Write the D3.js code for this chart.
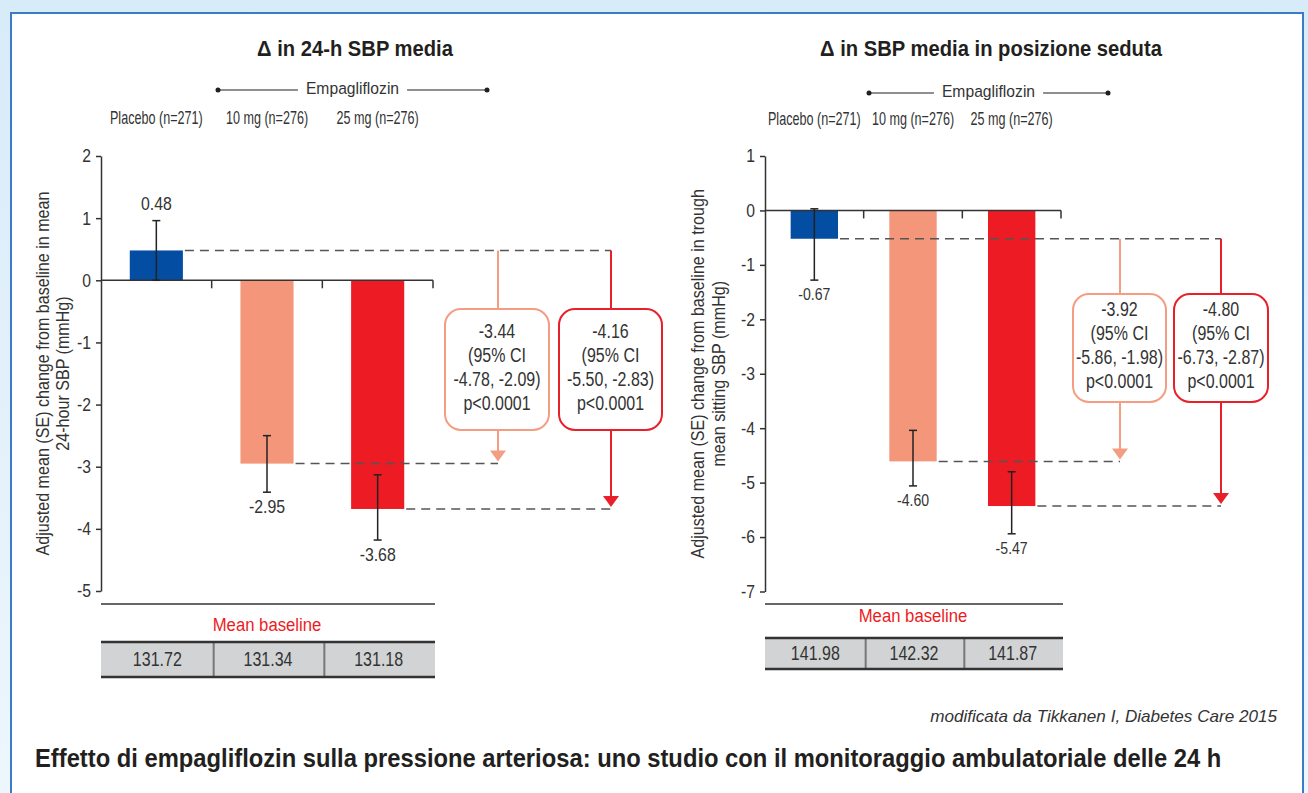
<!DOCTYPE html>
<html>
<head>
<meta charset="utf-8">
<title>Empagliflozin SBP</title>
<style>
    body, html {
        margin: 0;
        padding: 0;
        background: #ffffff;
    }
    text {
        font-family: "Liberation Sans", Arial, sans-serif;
        fill: #333;
    }
</style>
</head>
<body>
<div id="chart"></div>
<script src="https://d3js.org/d3.v7.min.js"></script>
<script>

    // groups shared by both panels
    var groups = ['Placebo (n=271)', '10 mg (n=276)', '25 mg (n=276)'];

    // left panel: change in 24-h mean SBP
    var ambTicks = [2, 1, 0, -1, -2, -3, -4, -5];
    var ambMeans = [0.48, -2.95, -3.68];
    var ambLabels = ['0.48', '-2.95', '-3.68'];
    var ambErrHigh = [0.96, -2.50, -3.13];
    var ambErrLow = [0.00, -3.41, -4.18];
    var ambBaseline = ['131.72', '131.34', '131.18'];
    var ambDiff10 = ['-3.44', '(95% CI', '-4.78, -2.09)', 'p<0.0001'];
    var ambDiff25 = ['-4.16', '(95% CI', '-5.50, -2.83)', 'p<0.0001'];

    // right panel: change in seated trough SBP
    var seatTicks = [1, 0, -1, -2, -3, -4, -5, -6, -7];
    var seatMeans = [-0.52, -4.61, -5.43];
    var seatLabels = ['-0.67', '-4.60', '-5.47'];
    var seatErrHigh = [0.03, -4.04, -4.80];
    var seatErrLow = [-1.28, -5.06, -5.94];
    var seatBaseline = ['141.98', '142.32', '141.87'];
    var seatDiff10 = ['-3.92', '(95% CI', '-5.86, -1.98)', 'p<0.0001'];
    var seatDiff25 = ['-4.80', '(95% CI', '-6.73, -2.87)', 'p<0.0001'];

    var width = 1308;
    var height = 793;
    var barColors = ['#034ea2', '#f4967a', '#ed1c24'];
    var arrowColors = ['#f59d82', '#e8202a'];

    var svg = d3.select('#chart')
        .append('svg')
        .attr('width', width)
        .attr('height', height);

    // text helper: condensed look by squeezing the glyphs horizontally
    function addText(parent, x, y, str, o) {
        o = o || {};
        var t = parent.append('text')
            .attr('text-anchor', o.anchor || 'middle')
            .attr('dominant-baseline', 'middle')
            .style('font-size', (o.size || 16) + 'px')
            .text(str);
        if (o.weight) t.style('font-weight', o.weight);
        if (o.italic) t.style('font-style', 'italic');
        if (o.fill) t.style('fill', o.fill);
        var sx = o.sx || 1;
        if (o.fit) sx = o.fit / t.node().getComputedTextLength();
        t.attr('transform', 'translate(' + x + ',' + y + ')' +
            (o.rotate ? ' rotate(' + o.rotate + ')' : '') +
            ' scale(' + sx + ',1)');
        t.node().__w = t.node().getComputedTextLength() * sx;
        return t;
    }

    var defs = svg.append('defs');
    var grad = defs.append('linearGradient')
        .attr('id', 'bg')
        .attr('x1', 0).attr('y1', 0).attr('x2', 0).attr('y2', 1);
    grad.append('stop').attr('offset', '0%').attr('stop-color', '#d8ebf9');
    grad.append('stop').attr('offset', '100%').attr('stop-color', '#edf6fd');

    svg.append('rect')
        .attr('width', width)
        .attr('height', height)
        .attr('fill', 'url(#bg)');

    svg.append('rect')
        .attr('x', 11)
        .attr('y', 13)
        .attr('width', 1292)
        .attr('height', 800)
        .attr('fill', '#fff')
        .attr('stroke', '#3a7cc8')
        .attr('stroke-width', 2);

    drawPanel({
        title: '\u0394 in 24-h SBP media',
        titleX: 355, titleW: 196,
        ticks: ambTicks, means: ambMeans, labels: ambLabels,
        errHigh: ambErrHigh, errLow: ambErrLow,
        baseline: ambBaseline, diffs: [ambDiff10, ambDiff25],
        yDomain: [2, -5], yRange: [156, 591],
        xRange: [101, 433],
        empLeft: 218, empRight: 487, empY: 90,
        groupY: 119,
        yLabel: ['Adjusted mean (SE) change from baseline in mean', '24-hour SBP (mmHg)'],
        yLabelX: [44, 64],
        arrowX: [498, 611],
        boxes: [[445, 104], [559, 103]],
        boxY: [309, 430],
        valueFont: 18,
        ruleY: 604, baseLabelY: 626,
        tableY: [642, 677]
    });

    drawPanel({
        title: '\u0394 in SBP media in posizione seduta',
        titleX: 991, titleW: 342,
        ticks: seatTicks, means: seatMeans, labels: seatLabels,
        errHigh: seatErrHigh, errLow: seatErrLow,
        baseline: seatBaseline, diffs: [seatDiff10, seatDiff25],
        yDomain: [1, -7], yRange: [156, 591.5],
        xRange: [765, 1061],
        empLeft: 869, empRight: 1108, empY: 93,
        groupY: 120,
        yLabel: ['Adjusted mean (SE) change from baseline in trough', 'mean sitting SBP (mmHg)'],
        yLabelX: [699, 720],
        arrowX: [1120, 1221],
        boxes: [[1073, 93], [1174, 94]],
        boxY: [294, 402],
        valueFont: 16,
        ruleY: 604, baseLabelY: 617,
        tableY: [638, 669]
    });

    function drawPanel(p) {
        var g = svg.append('g');

        var y = d3.scaleLinear().domain(p.yDomain).range(p.yRange);
        var x = d3.scaleBand()
            .domain(groups)
            .range(p.xRange)
            .paddingInner(0.52)
            .paddingOuter(0.26);
        var step = x.step();
        var x0 = p.xRange[0];
        var center = function(d) { return x(d) + x.bandwidth() / 2; };

        // title and group header
        addText(g, p.titleX, 50, p.title, {size: 22, weight: 'bold', fill: '#231f20', fit: p.titleW});

        var empMid = (p.empLeft + p.empRight) / 2;
        var emp = addText(g, empMid, p.empY, 'Empagliflozin', {size: 16.5, sx: 0.95});
        var half = emp.node().__w / 2 + 8;
        [[p.empLeft, empMid - half], [empMid + half, p.empRight]].forEach(function(s) {
            g.append('line')
                .attr('x1', s[0]).attr('x2', s[1])
                .attr('y1', p.empY).attr('y2', p.empY)
                .attr('stroke', '#231f20')
                .attr('stroke-width', 1.2);
        });
        [p.empLeft, p.empRight].forEach(function(cx) {
            g.append('circle')
                .attr('cx', cx).attr('cy', p.empY).attr('r', 2.5)
                .attr('fill', '#231f20');
        });

        groups.forEach(function(d) {
            addText(g, center(d), p.groupY, d, {size: 17.5, sx: 0.72});
        });

        // y axis
        var axis = g.append('g')
            .attr('transform', 'translate(' + x0 + ',0)')
            .call(d3.axisLeft(y).tickValues(p.ticks).tickSize(5).tickSizeOuter(0).tickPadding(5)
                .tickFormat(function(d) { return d; }));
        axis.select('.domain').attr('stroke', '#333').attr('stroke-width', 1.5);
        axis.selectAll('.tick line').attr('stroke', '#333').attr('stroke-width', 1.5);
        axis.selectAll('.tick text')
            .style('font-size', '18.5px')
            .style('font-family', null)
            .attr('fill', '#333')
            .attr('x', -10 / 0.85)
            .attr('transform', 'scale(0.85,1)');

        p.yLabel.forEach(function(t, i) {
            var cy = (p.yRange[0] + p.yRange[1]) / 2;
            addText(g, p.yLabelX[i], cy, t, {size: 18.5, sx: 0.87, rotate: -90});
        });

        // bars
        g.selectAll('.bar')
            .data(groups)
            .enter()
            .append('rect')
            .attr('x', function(d) { return x(d); })
            .attr('width', x.bandwidth())
            .attr('y', function(d, i) { return y(Math.max(0, p.means[i])); })
            .attr('height', function(d, i) { return Math.abs(y(p.means[i]) - y(0)); })
            .attr('fill', function(d, i) { return barColors[i]; });

        // zero line with ticks at band edges
        g.append('line')
            .attr('x1', x0).attr('x2', p.xRange[1])
            .attr('y1', y(0)).attr('y2', y(0))
            .attr('stroke', '#333').attr('stroke-width', 1.5);
        [1, 2, 3].forEach(function(k) {
            g.append('line')
                .attr('x1', x0 + k * step).attr('x2', x0 + k * step)
                .attr('y1', y(0)).attr('y2', y(0) + 8)
                .attr('stroke', '#333').attr('stroke-width', 1.5);
        });

        // dashed reference lines
        var dash = function(x1, x2, v) {
            g.append('line')
                .attr('x1', x1).attr('x2', x2)
                .attr('y1', y(v)).attr('y2', y(v))
                .attr('stroke', '#555')
                .attr('stroke-width', 1.5)
                .attr('stroke-dasharray', '9,6');
        };
        var right = function(i) { return x(groups[i]) + x.bandwidth(); };
        dash(right(0) + 2, p.arrowX[1], p.means[0]);
        dash(right(1) + 2, p.arrowX[0], p.means[1]);
        dash(right(2) + 2, p.arrowX[1], p.means[2]);

        // error bars
        groups.forEach(function(d, i) {
            var cx = center(d);
            g.append('line')
                .attr('x1', cx).attr('x2', cx)
                .attr('y1', y(p.errHigh[i])).attr('y2', y(p.errLow[i]))
                .attr('stroke', '#222').attr('stroke-width', 1.5);
            [p.errHigh[i], p.errLow[i]].forEach(function(v) {
                g.append('line')
                    .attr('x1', cx - 4).attr('x2', cx + 4)
                    .attr('y1', y(v)).attr('y2', y(v))
                    .attr('stroke', '#222').attr('stroke-width', 1.5);
            });
            var above = p.means[i] > 0;
            addText(g, cx, above ? y(p.errHigh[i]) - 15 : y(p.errLow[i]) + 16, p.labels[i],
                {size: p.valueFont, sx: 0.88});
        });

        // arrows with difference boxes
        [0, 1].forEach(function(k) {
            var ax = p.arrowX[k];
            var col = arrowColors[k];
            var yTop = y(p.means[0]);
            var yTip = y(p.means[k + 1]) - 2;
            g.append('line')
                .attr('x1', ax).attr('x2', ax)
                .attr('y1', yTop).attr('y2', p.boxY[0])
                .attr('stroke', col).attr('stroke-width', 2);
            g.append('line')
                .attr('x1', ax).attr('x2', ax)
                .attr('y1', p.boxY[1]).attr('y2', yTip - 8)
                .attr('stroke', col).attr('stroke-width', 2);
            g.append('path')
                .attr('d', 'M' + (ax - 8) + ',' + (yTip - 11) + 'L' + (ax + 8) + ',' + (yTip - 11) + 'L' + ax + ',' + yTip + 'Z')
                .attr('fill', col);
            g.append('rect')
                .attr('x', p.boxes[k][0])
                .attr('y', p.boxY[0])
                .attr('width', p.boxes[k][1])
                .attr('height', p.boxY[1] - p.boxY[0])
                .attr('rx', 16)
                .attr('fill', '#fff')
                .attr('stroke', col)
                .attr('stroke-width', 2);
            var mid = (p.boxY[0] + p.boxY[1]) / 2 - 1;
            p.diffs[k].forEach(function(t, j) {
                addText(g, p.boxes[k][0] + p.boxes[k][1] / 2, mid + (j - 1.5) * 24, t,
                    {size: 19.5, sx: 0.82});
            });
        });

        // mean baseline table
        var x1 = p.xRange[1] + 2;
        g.append('line')
            .attr('x1', x0).attr('x2', x1)
            .attr('y1', p.ruleY).attr('y2', p.ruleY)
            .attr('stroke', '#333').attr('stroke-width', 1.5);
        addText(g, center(groups[1]), p.baseLabelY, 'Mean baseline', {size: 19, sx: 0.88, fill: '#ed1c24'});
        g.append('rect')
            .attr('x', x0).attr('y', p.tableY[0])
            .attr('width', x1 - x0).attr('height', p.tableY[1] - p.tableY[0])
            .attr('fill', '#d1d3d4');
        [1, 2].forEach(function(k) {
            g.append('line')
                .attr('x1', x0 + k * step + 2).attr('x2', x0 + k * step + 2)
                .attr('y1', p.tableY[0]).attr('y2', p.tableY[1])
                .attr('stroke', '#777').attr('stroke-width', 2);
        });
        p.tableY.forEach(function(ty) {
            g.append('line')
                .attr('x1', x0).attr('x2', x1)
                .attr('y1', ty).attr('y2', ty)
                .attr('stroke', '#333').attr('stroke-width', 2.5);
        });
        p.baseline.forEach(function(d, i) {
            addText(g, x0 + (i + 0.5) * step + 1, (p.tableY[0] + p.tableY[1]) / 2 + 1, d,
                {size: 20, sx: 0.8});
        });
    }

    // source and caption
    addText(svg, 1277, 718, 'modificata da Tikkanen I, Diabetes Care 2015',
        {size: 17, italic: true, anchor: 'end', fit: 347});

    addText(svg, 35, 760,
        'Effetto di empagliflozin sulla pressione arteriosa: uno studio con il monitoraggio ambulatoriale delle 24 h',
        {size: 26, weight: 'bold', anchor: 'start', fill: '#231f20', fit: 1187});

</script>
</body>
</html>
